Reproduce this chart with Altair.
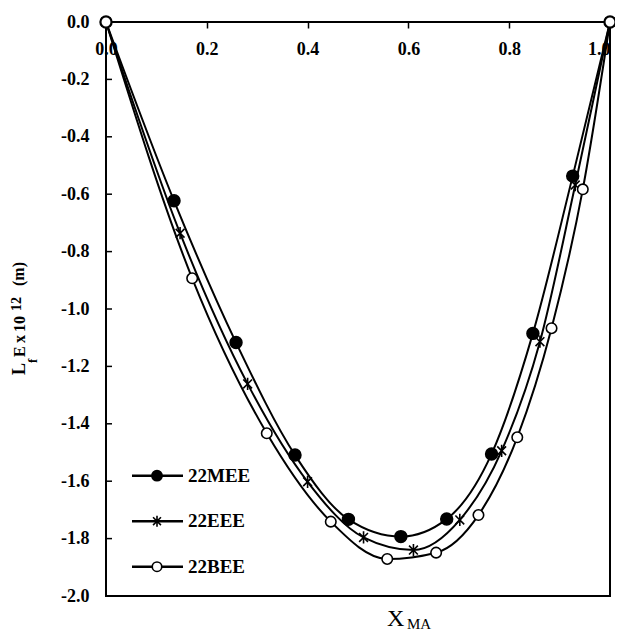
import altair as alt
import pandas as pd

# ---------------- data ----------------
series_names = ["22MEE", "22EEE", "22BEE"]

x_mee = [0.0, 0.135, 0.258, 0.375, 0.481, 0.585, 0.676, 0.765, 0.847, 0.926, 1.0]
y_mee = [0.0, -0.623, -1.117, -1.509, -1.733, -1.793, -1.732, -1.505, -1.085, -0.537, 0.0]

x_eee = [0.0, 0.147, 0.281, 0.400, 0.511, 0.610, 0.702, 0.785, 0.861, 0.931, 1.0]
y_eee = [0.0, -0.736, -1.261, -1.602, -1.796, -1.840, -1.735, -1.494, -1.114, -0.568, 0.0]

x_bee = [0.0, 0.171, 0.319, 0.446, 0.558, 0.655, 0.739, 0.816, 0.884, 0.946, 1.0]
y_bee = [0.0, -0.893, -1.433, -1.741, -1.871, -1.849, -1.718, -1.447, -1.067, -0.583, 0.0]

x_ticks = [0.0, 0.2, 0.4, 0.6, 0.8, 1.0]
y_ticks = [0.0, -0.2, -0.4, -0.6, -0.8, -1.0, -1.2, -1.4, -1.6, -1.8, -2.0]

rows = []
for name, xs_, ys_ in zip(series_names, [x_mee, x_eee, x_bee], [y_mee, y_eee, y_bee]):
    for a, b in zip(xs_, ys_):
        rows.append({"series": name, "x": a, "y": b})
df = pd.DataFrame(rows)
legend_df = pd.DataFrame({"label": series_names})
ytick_df = pd.DataFrame({"v": y_ticks})

# ---------------- styling ----------------
W, H = 504, 574
FONT = "Liberation Serif, Times New Roman, Times, serif"
ASTER = "M0,-1L0,1M-0.72,-0.72L0.72,0.72M-0.72,0.72L0.72,-0.72"

xscale = alt.Scale(domain=[0, 1], nice=False, zero=False)
yscale = alt.Scale(domain=[-2, 0], nice=False, zero=False)
leg_scale = alt.Scale(type="point", domain=series_names, range=[453.7, 544.7], padding=0)

marker_style = {
    "22MEE": dict(shape="circle", fill="black", size=140),
    "22EEE": dict(shape=ASTER, fill="transparent", size=150),
    "22BEE": dict(shape="circle", fill="white", size=110),
}
legend_marker_size = {"22MEE": 105, "22EEE": 120, "22BEE": 90}

base = alt.Chart(df)

lines = base.mark_line(interpolate="monotone", color="black", strokeWidth=2).encode(
    x=alt.X(
        "x:Q",
        scale=xscale,
        axis=alt.Axis(
            orient="bottom", offset=-H, values=x_ticks, format=".1f",
            tickSize=6, tickWidth=1.5, tickColor="black",
            labelPadding=12, labelFlush=False, labelOverlap=False,
            labelAlign={"condition": {"test": "datum.value >= 1", "value": "right"},
                        "value": "center"},
            labelFont=FONT, labelFontSize=18, labelFontWeight="bold", labelColor="black",
            domain=False, grid=False, title="",
        ),
    ),
    y=alt.Y(
        "y:Q",
        scale=yscale,
        axis=alt.Axis(
            orient="left", values=y_ticks,
            labelExpr="(datum.value < 0 ? '-' : '') + format(abs(datum.value), '.1f')",
            ticks=False, tickSize=0, labelPadding=17, labelOverlap=False,
            labelFlush=False,
            labelFont=FONT, labelFontSize=18, labelFontWeight="bold", labelColor="black",
            domain=False, grid=False, title="",
        ),
    ),
    detail="series:N",
)

yticks = alt.Chart(ytick_df).mark_rule(color="black", strokeWidth=1.5).encode(
    y=alt.Y("v:Q", scale=yscale, axis=None),
    x=alt.value(0),
    x2=alt.value(6),
)

point_layers = []
for name in series_names:
    st = marker_style[name]
    point_layers.append(
        base.transform_filter(alt.datum.series == name)
        .mark_point(shape=st["shape"], filled=True, fill=st["fill"], stroke="black",
                    strokeWidth=1.6, size=st["size"], opacity=1)
        .encode(
            x=alt.X("x:Q", scale=xscale),
            y=alt.Y("y:Q", scale=yscale, axis=None),
        )
    )

# legend (drawn with the library's scales)
leg = alt.Chart(legend_df)
leg_lines = leg.mark_rule(color="black", strokeWidth=2.5).encode(
    y=alt.Y("label:N", scale=leg_scale, axis=None),
    x=alt.value(26),
    x2=alt.value(77),
)
leg_points = []
for name in series_names:
    st = marker_style[name]
    leg_points.append(
        leg.transform_filter(alt.datum.label == name)
        .mark_point(shape=st["shape"], filled=True, fill=st["fill"], stroke="black",
                    strokeWidth=1.6, size=legend_marker_size[name], opacity=1)
        .encode(y=alt.Y("label:N", scale=leg_scale, axis=None), x=alt.value(51))
    )
leg_text = leg.mark_text(align="left", baseline="middle", font=FONT, fontSize=19,
                         fontWeight="bold", color="black").encode(
    y=alt.Y("label:N", scale=leg_scale, axis=None),
    x=alt.value(82),
    text="label:N",
)


def piece(s, x, y, size, angle=0, weight="normal"):
    return alt.Chart(pd.DataFrame({"t": [s]})).mark_text(
        align="left", baseline="alphabetic", angle=angle, font=FONT,
        fontSize=size, fontWeight=weight, color="black",
    ).encode(text="t:N", x=alt.value(x), y=alt.value(y))


title_pieces = [
    piece("L", -81, 353, 18, 270, "bold"),
    piece("f", -69, 341, 13, 270, "bold"),
    piece("E", -81, 335, 16, 270, "bold"),
    piece("x", -81, 321, 16, 270, "bold"),
    piece("10", -81, 310, 16, 270, "bold"),
    piece("12", -85, 289, 14, 270, "bold"),
    piece("(m)", -82, 264, 16, 270, "bold"),
    piece("X", 281, 604, 24),
    piece("MA", 301, 607, 15),
]

chart = (
    alt.layer(lines, yticks, *point_layers, leg_lines, *leg_points, leg_text, *title_pieces)
    .resolve_scale(y="independent")
    .properties(
        width=W, height=H,
        padding={"left": 98, "top": 14, "right": 5, "bottom": 38},
        autosize=alt.AutoSizeParams(type="none"),
    )
    .configure_view(stroke="black", strokeWidth=2)
)

chart.save("out.html", embed_options={"renderer": "svg", "actions": False})
